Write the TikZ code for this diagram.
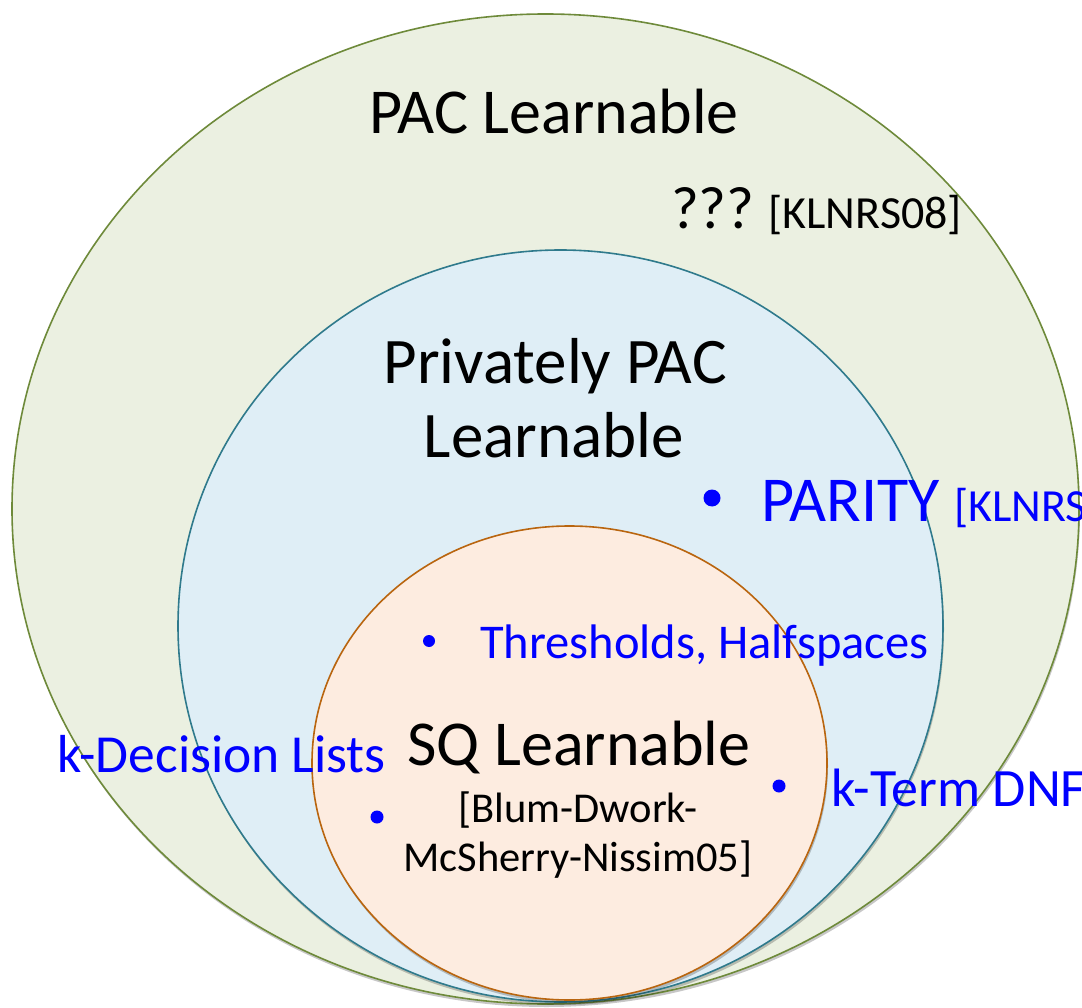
\documentclass[tikz,border=0pt]{standalone}
\usepackage{fontspec}
\setmainfont{Carlito}
\usetikzlibrary{shapes.geometric,shadows}
\definecolor{outerfill}{HTML}{EBF0E1}
\definecolor{outerline}{HTML}{6E8A3A}
\definecolor{midfill}{HTML}{DFEEF6}
\definecolor{midline}{HTML}{2F7A8C}
\definecolor{innerfill}{HTML}{FDECE0}
\definecolor{innerline}{HTML}{B9650F}
\definecolor{itemblue}{HTML}{0000FF}
\tikzset{
  setell/.style={ellipse, inner sep=0pt, line width=1.6pt,
    drop shadow={shadow xshift=1pt, shadow yshift=-3pt, opacity=0.22, fill=black}},
  lbl/.style={inner sep=0pt, anchor=base, text=black},
  itm/.style={inner sep=0pt, anchor=base west, text=itemblue},
  dot/.style={circle, fill=itemblue, inner sep=0pt, minimum size=#1}
}
\newcommand{\fs}[1]{\fontsize{#1}{#1}\selectfont}
\begin{document}
\begin{tikzpicture}[x=1pt,y=-1pt]
\useasboundingbox (0,0) rectangle (1082,1008);
% sets
\node[setell, draw=outerline, fill=outerfill, minimum width=1067pt, minimum height=990pt] (pac) at (545.5,509) {};
\node[setell, draw=midline, fill=midfill, minimum width=765pt, minimum height=752pt] (priv) at (560.5,626) {};
\node[setell, draw=innerline, fill=innerfill, minimum width=515pt, minimum height=474pt] (sq) at (569.5,763) {};
% labels
\node[lbl] (pact) at (554,134) {\fs{64}PAC Learnable};
\node[inner sep=0pt, anchor=base west] (q) at (671,229) {\fs{60}???\hspace{14pt}\fs{46}[KLNRS08]};
\node[lbl] (privt1) at (555,384) {\fs{65}Privately PAC};
\node[lbl] (privt2) at (554,457) {\fs{65}Learnable};
\node[lbl] (sqt) at (579,765) {\fs{64}SQ Learnable};
\node[lbl] (ref1) at (578,822) {\fs{42.5}[Blum-Dwork-};
\node[lbl] (ref2) at (578,871) {\fs{42.5}McSherry-Nissim05]};
% items
\node[dot=17pt] (b1) at (712,498) {};
\node[itm] (parity) at (761,521) {\fs{64}PARITY \fs{46}[KLNRS08]};
\node[dot=12pt] (b2) at (429,641) {};
\node[itm] (thr) at (480,658) {\fs{48.5}Thresholds, Halfspaces};
\node[itm] (kdl) at (57,772) {\fs{53.5}k-Decision Lists};
\node[dot=13pt] (b3) at (377,817) {};
\node[dot=13pt] (b4) at (779,786) {};
\node[itm] (kterm) at (831,806) {\fs{54}k-Term DNF};
\end{tikzpicture}
\end{document}
